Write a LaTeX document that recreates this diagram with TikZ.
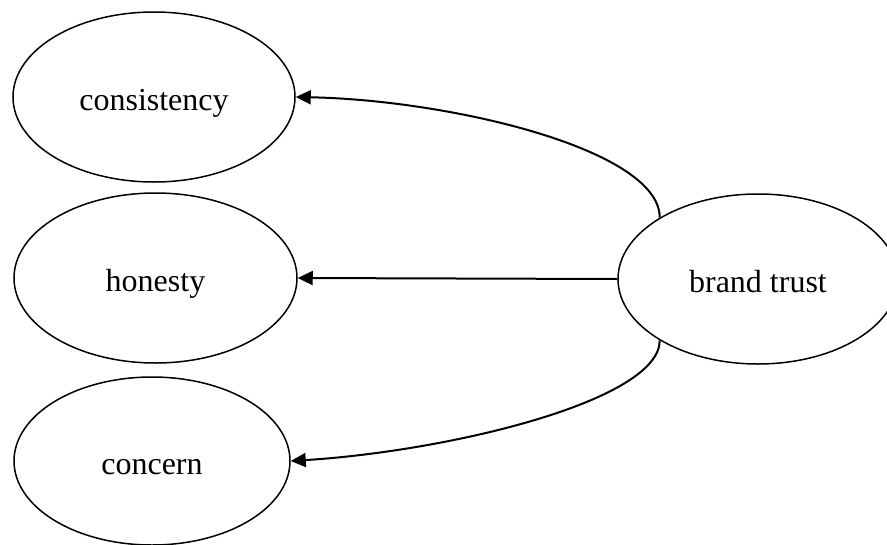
\documentclass[tikz,border=0pt]{standalone}
\usepackage{fontspec}
\setmainfont{Liberation Serif}
\usetikzlibrary{shapes.geometric,arrows.meta}
\begin{document}
\begin{tikzpicture}[x=1pt,y=-1pt,
  oval/.style={ellipse,draw,line width=1.5pt,inner sep=0pt,text height=26pt,text depth=0pt,font=\fontsize{32}{38}\selectfont},
  link/.style={line width=2pt,-{Triangle[length=15pt,width=14pt]}}]
\clip (0,0) rectangle (887,544);
\useasboundingbox (0,0) rectangle (887,544);
\node[oval,minimum width=282pt,minimum height=170pt] (c) at (154,97) {consistency};
\node[oval,minimum width=283pt,minimum height=170pt] (h) at (155.5,278) {honesty};
\node[oval,minimum width=276pt,minimum height=168pt] (n) at (152,461) {concern};
\node[oval,minimum width=280pt,minimum height=170pt] (b) at (758,279) {brand trust};
\draw[link] (b.148) .. controls +(0,-68) and +(155,3) .. (c.east);
\draw[link] (b.west) -- (h.east);
\draw[link] (b.212) .. controls +(0,60) and +(160,-10) .. (n.east);
\end{tikzpicture}
\end{document}
